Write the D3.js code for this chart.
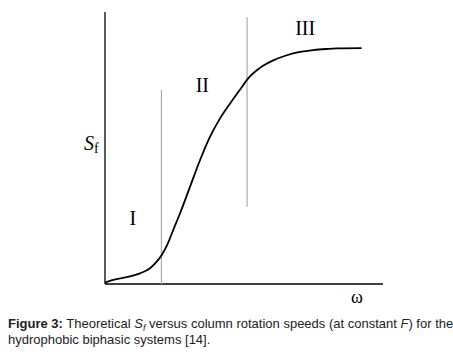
<!DOCTYPE html>
<html>
<head>
<meta charset="utf-8">
<script src="https://cdn.jsdelivr.net/npm/d3@7"></script>
<style>
    body { margin: 0; background: #fff; }
    svg { display: block; }
</style>
</head>
<body>
<div id="chart"></div>
<script>
// curve (omega, Sf), both on a 0-100 scale
let omega = [0, 3.0, 7.8, 12.6, 16.2, 18.6, 20.4, 22.2, 24.6, 27.0, 30.6, 34.2, 37.8, 41.4, 45.0, 48.6, 51.5, 55.8, 60.5, 65.4, 70.1, 74.9, 79.7, 83.3, 92.3];
let sf = [0.5, 1.5, 2.5, 3.9, 5.8, 8.2, 10.7, 14.0, 20.0, 26.0, 35.8, 45.6, 54.2, 60.9, 66.4, 71.5, 75.6, 79.5, 82.2, 84.1, 85.3, 86.0, 86.4, 86.6, 86.7];

// region boundaries: [omega, Sf from, Sf to]
let dividers = [[20.3, 0, 71.3], [51.1, 28.3, 98.2]];

// region labels: [text, omega, Sf]
let regions = [["I", 10, 21.7], ["II", 35, 70.6], ["III", 72, 91.5]];

let captionLines = [
    [{t: "Figure 3:", b: true}, {t: " Theoretical "}, {t: "S", i: true}, {t: "f", i: true, sub: true}, {t: " versus column rotation speeds (at constant ", up: true}, {t: "F", i: true}, {t: ") for the"}],
    [{t: "hydrophobic biphasic systems [14]."}]
];

let width = 453, height = 360;

let svg = d3.select("#chart").append("svg")
    .attr("width", width)
    .attr("height", height);

let x = d3.scaleLinear().domain([0, 100]).range([105, 383]);
let y = d3.scaleLinear().domain([0, 100]).range([284, 12]);

// axes (no ticks)
svg.append("line")
    .attr("x1", x(0)).attr("x2", x(0))
    .attr("y1", y(0)).attr("y2", y(100))
    .attr("stroke", "#000").attr("stroke-width", 1.3);
svg.append("line")
    .attr("x1", x(0)).attr("x2", x(100))
    .attr("y1", y(0)).attr("y2", y(0))
    .attr("stroke", "#000").attr("stroke-width", 1.3);

// grey region dividers
svg.selectAll(".divider").data(dividers)
    .enter().append("line")
    .attr("class", "divider")
    .attr("x1", d => x(d[0])).attr("x2", d => x(d[0]))
    .attr("y1", d => y(d[1])).attr("y2", d => y(d[2]))
    .attr("stroke", "#aaa").attr("stroke-width", 1.2);

// the curve
let line = d3.line()
    .x((d, i) => x(omega[i]))
    .y(d => y(d))
    .curve(d3.curveMonotoneX);

svg.append("path")
    .datum(sf)
    .attr("d", line)
    .attr("fill", "none")
    .attr("stroke", "#000")
    .attr("stroke-width", 1.8);

// region labels
svg.selectAll(".region").data(regions)
    .enter().append("text")
    .attr("class", "region")
    .attr("x", d => x(d[1]))
    .attr("y", d => y(d[2]))
    .attr("text-anchor", "middle")
    .attr("font-family", "Liberation Serif, serif")
    .attr("font-size", 20)
    .text(d => d[0]);

// axis titles
let sfLabel = svg.append("text")
    .attr("x", 84).attr("y", 150)
    .attr("font-family", "Liberation Serif, serif")
    .attr("font-size", 20)
    .attr("font-style", "italic");
sfLabel.append("tspan").text("S");
sfLabel.append("tspan").attr("font-size", 14).attr("font-style", "normal").attr("dy", 3).text("f");

svg.append("text")
    .attr("x", 357).attr("y", 303)
    .attr("text-anchor", "middle")
    .attr("font-family", "Liberation Serif, serif")
    .attr("font-size", 18)
    .text("\u03c9");

// caption
captionLines.forEach((parts, li) => {
    let t = svg.append("text")
        .attr("x", 8).attr("y", 328 + li * 16)
        .attr("font-family", "Liberation Sans, Arial, sans-serif")
        .attr("font-size", 13)
        .attr("fill", "#222");
    parts.forEach(p => {
        let s = t.append("tspan").text(p.t);
        if (p.b) s.attr("font-weight", "bold");
        if (p.i) s.attr("font-style", "italic");
        if (p.sub) s.attr("font-size", 9).attr("dy", 3);
        if (p.up) s.attr("dy", -3);
    });
});
</script>
</body>
</html>
